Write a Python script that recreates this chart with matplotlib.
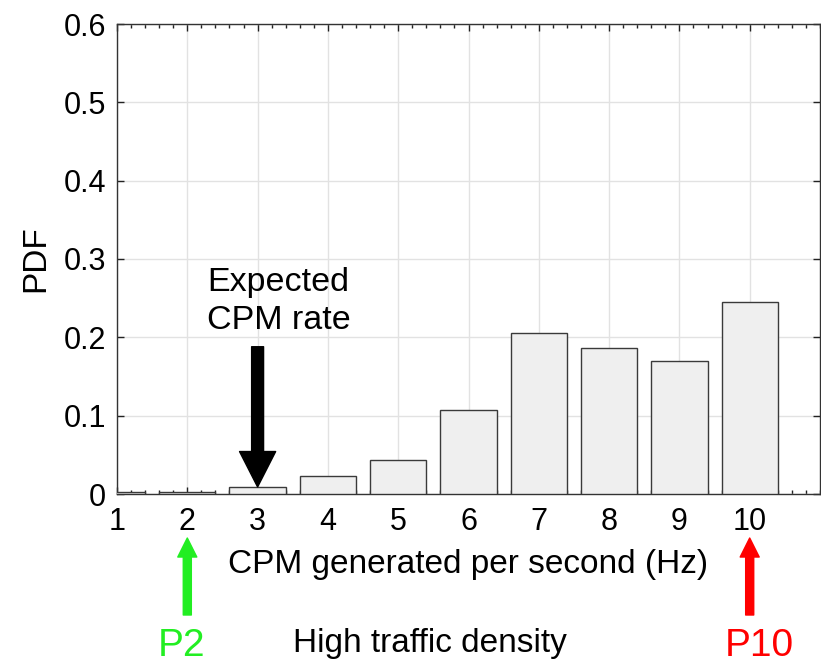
import matplotlib
matplotlib.use("Agg")
import matplotlib.pyplot as plt
from matplotlib.ticker import MultipleLocator

plt.rcParams['font.family'] = ['Liberation Sans', 'DejaVu Sans']

# CPM generation rate (Hz) and its probability density
rates = [1, 2, 3, 4, 5, 6, 7, 8, 9, 10]
pdf = [0.002, 0.002, 0.009, 0.023, 0.0435, 0.107, 0.206, 0.186, 0.170, 0.2455]
x_ticks = [1, 2, 3, 4, 5, 6, 7, 8, 9, 10]
y_ticks = [0, 0.1, 0.2, 0.3, 0.4, 0.5, 0.6]
expected_rate = 3
expected_pdf = 0.009
arrow_start = 0.188
p_low, p_high = 2, 10

W, H = 821, 664
fig = plt.figure(figsize=(W / 100, H / 100), dpi=100)
ax = fig.add_axes([117 / W, (H - 494) / H, (820 - 117) / W, (494 - 24) / H])

ax.bar(rates, pdf, width=0.8, color='#efefef', edgecolor='#3a3a3a',
       linewidth=1.0, zorder=3)

ax.set_xlim(1, 11)
ax.set_ylim(0, 0.6)
ax.set_xticks(x_ticks)
ax.set_xticklabels([str(t) for t in x_ticks])
ax.set_yticks(y_ticks)
ax.set_yticklabels(['0' if t == 0 else f'{t:.1f}' for t in y_ticks])
ax.xaxis.set_minor_locator(MultipleLocator(0.2))

ax.grid(True, which='major', color='#e2e2e2', linewidth=1.0, zorder=0)
ax.set_axisbelow(True)

ax.tick_params(axis='both', which='major', direction='in', length=5,
               width=1, color='#222222', labelsize=22, top=True, right=True)
ax.tick_params(axis='x', which='minor', direction='in', length=3,
               width=1, color='#222222', top=True, bottom=True)
ax.tick_params(axis='x', which='major', pad=9)
ax.tick_params(axis='y', which='major', pad=8)
for s in ax.spines.values():
    s.set_color('#333333')
    s.set_linewidth(1.0)

ax.set_xlabel('CPM generated per second (Hz)', fontsize=24, labelpad=9)
ax.set_ylabel('PDF', fontsize=24, labelpad=9)

# Expected rate marker
ax.annotate('', xy=(expected_rate, expected_pdf), xytext=(expected_rate, arrow_start),
            arrowprops=dict(arrowstyle='simple,head_length=25.5,head_width=26,tail_width=8.6',
                            mutation_scale=1, color='black', shrinkA=0, shrinkB=0),
            zorder=5)
ax.text(2.28, 0.211, 'Expected\nCPM rate', fontsize=24.5,
        ha='left', va='baseline', multialignment='left', linespacing=1.3, zorder=5)

# Power-level markers below the axis
for pos, col in [(p_low, '#22ee22'), (p_high, '#ff0000')]:
    ax.annotate('', xy=(pos, H - 538), xytext=(pos, H - 615),
                xycoords=('data', 'figure pixels'), textcoords=('data', 'figure pixels'),
                arrowprops=dict(arrowstyle='simple,head_length=13.7,head_width=13.7,tail_width=5.8',
                                mutation_scale=1, color=col, shrinkA=0, shrinkB=0),
                annotation_clip=False)

fig.text(182 / W, (H - 656) / H, 'P2', color='#22ee22', fontsize=28,
         ha='center', va='baseline')
fig.text(759 / W, (H - 656) / H, 'P10', color='#ff0000', fontsize=28,
         ha='center', va='baseline')
fig.text(430 / W, (H - 652) / H, 'High traffic density', color='black',
         fontsize=24, ha='center', va='baseline')

fig.savefig('out.png', dpi=100)
